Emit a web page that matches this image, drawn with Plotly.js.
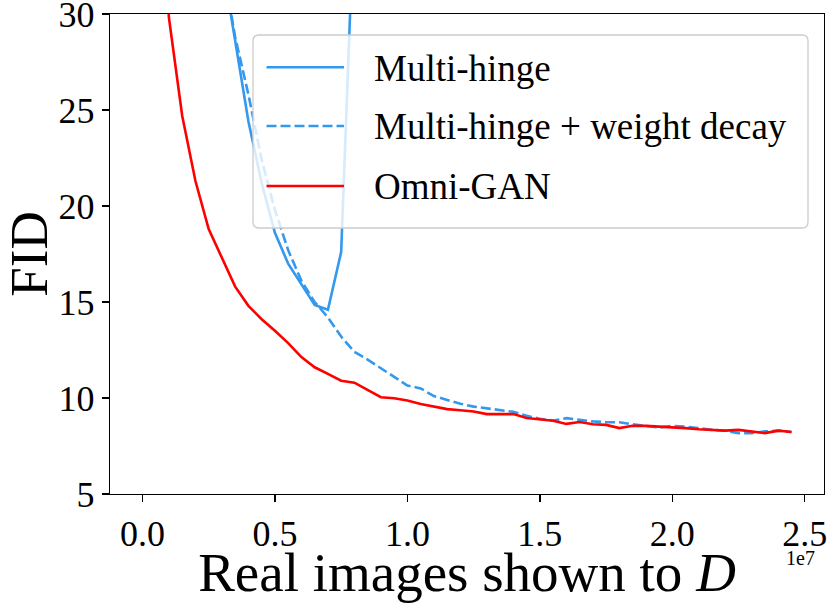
<!DOCTYPE html>
<html>
<head>
<meta charset="utf-8">
<script src="https://cdn.plot.ly/plotly-3.0.1.min.js"></script>
<style>
  html, body { margin: 0; padding: 0; background: #fff; }
  #chart { width: 830px; height: 603px; }
</style>
</head>
<body>
<div id="chart"></div>
<script>
// Real images shown to D (raw units)
const xShown = [0, 0.05e7, 0.10e7, 0.15e7, 0.20e7, 0.25e7, 0.30e7, 0.35e7, 0.40e7, 0.45e7,
                0.50e7, 0.55e7, 0.60e7, 0.65e7, 0.70e7, 0.75e7, 0.80e7, 0.85e7, 0.90e7, 0.95e7,
                1.00e7, 1.05e7, 1.10e7, 1.15e7, 1.20e7, 1.25e7, 1.30e7, 1.35e7, 1.40e7, 1.45e7,
                1.50e7, 1.55e7, 1.60e7, 1.65e7, 1.70e7, 1.75e7, 1.80e7, 1.85e7, 1.90e7, 1.95e7,
                2.00e7, 2.05e7, 2.10e7, 2.15e7, 2.20e7, 2.25e7, 2.30e7, 2.35e7, 2.40e7, 2.45e7];

const fidMultiHinge = [null, null, null, null, null, null, 32.8, 28.6, 24.4, 21.2,
                       18.6, 17.0, 15.9, 14.85, 14.6, 17.6, 36.0, null, null, null,
                       null, null, null, null, null, null, null, null, null, null,
                       null, null, null, null, null, null, null, null, null, null,
                       null, null, null, null, null, null, null, null, null, null];

const fidMultiHingeWD = [null, null, null, null, null, null, 32.8, 28.8, 25.8, 22.4,
                         19.8, 17.7, 16.1, 15.0, 14.2, 13.2, 12.4, 12.0, 11.55, 11.1,
                         10.65, 10.5, 10.1, 9.9, 9.7, 9.55, 9.45, 9.35, 9.28, 9.07,
                         8.92, 8.82, 8.95, 8.86, 8.78, 8.74, 8.74, 8.63, 8.56, 8.46,
                         8.55, 8.51, 8.43, 8.34, 8.29, 8.17, 8.17, 8.26, 8.30, 8.23];

const fidOmniGAN = [null, 40.0, 29.8, 24.7, 21.3, 18.8, 17.3, 15.8, 14.8, 14.1,
                    13.5, 12.86, 12.13, 11.6, 11.26, 10.9, 10.8, 10.42, 10.04, 9.99,
                    9.87, 9.69, 9.55, 9.42, 9.36, 9.30, 9.16, 9.16, 9.16, 8.96,
                    8.90, 8.81, 8.65, 8.75, 8.63, 8.60, 8.43, 8.55, 8.55, 8.51,
                    8.49, 8.43, 8.37, 8.34, 8.30, 8.34, 8.25, 8.17, 8.30, 8.23];

const seriesNames = ['Multi-hinge', 'Multi-hinge + weight decay', 'Omni-GAN'];
const xTickVals = [0, 0.5e7, 1.0e7, 1.5e7, 2.0e7, 2.5e7];
const xTickText = ['0.0', '0.5', '1.0', '1.5', '2.0', '2.5'];
const yTickVals = [5, 10, 15, 20, 25, 30];
const yTickText = ['5', '10', '15', '20', '25', '30'];

const fontFam = 'Liberation Serif';
const blue = '#3399ee';
const red = '#ff0000';
const seriesColors = [blue, blue, red];
const seriesDash = ['solid', '10px,4px', 'solid'];
const seriesData = [fidMultiHinge, fidMultiHingeWD, fidOmniGAN];

const chartTraces = seriesData.map((yv, i) => ({
  x: xShown, y: yv, name: seriesNames[i], mode: 'lines', showlegend: false,
  line: { color: seriesColors[i], width: 2.6, dash: seriesDash[i] }
}));

function axisStyle(extra) {
  const base = {
    showline: true, mirror: true, linecolor: '#000', linewidth: 1.3,
    ticks: 'outside', ticklen: 7, tickwidth: 1.3, tickcolor: '#000',
    showgrid: false, zeroline: false, ticklabeloverflow: 'allow',
    tickfont: { family: fontFam, size: 36, color: '#000' }
  };
  return Object.assign(base, extra);
}

// legend drawn as a framed box (paper coordinates)
const LG = { x0: 0.2003, x1: 0.9776, y0: 0.5542, y1: 0.9563, rx: 0.0084, ry: 0.0125 };
const boxPath = `M${LG.x0 + LG.rx},${LG.y1} L${LG.x1 - LG.rx},${LG.y1} Q${LG.x1},${LG.y1} ${LG.x1},${LG.y1 - LG.ry} ` +
  `L${LG.x1},${LG.y0 + LG.ry} Q${LG.x1},${LG.y0} ${LG.x1 - LG.rx},${LG.y0} L${LG.x0 + LG.rx},${LG.y0} ` +
  `Q${LG.x0},${LG.y0} ${LG.x0},${LG.y0 + LG.ry} L${LG.x0},${LG.y1 - LG.ry} Q${LG.x0},${LG.y1} ${LG.x0 + LG.rx},${LG.y1} Z`;
const rowY = [0.8890, 0.7667, 0.6417];
const chartShapes = [{ type: 'path', xref: 'paper', yref: 'paper', path: boxPath, layer: 'above',
                       fillcolor: 'rgba(255,255,255,0.8)', line: { color: '#cccccc', width: 1.3 } }];
const chartAnnotations = [];
rowY.forEach((ry, i) => {
  chartShapes.push({ type: 'line', xref: 'paper', yref: 'paper', layer: 'above',
                     x0: 0.2192, x1: 0.3277, y0: ry, y1: ry,
                     line: { color: seriesColors[i], width: 2.6, dash: seriesDash[i] } });
  chartAnnotations.push({ text: seriesNames[i], xref: 'paper', yref: 'paper', x: 0.3670, y: ry - 0.002,
                          xanchor: 'left', yanchor: 'middle', showarrow: false,
                          font: { family: fontFam, size: 37, color: '#000' } });
});
chartAnnotations.push({ text: '1e7', xref: 'paper', yref: 'paper', x: 0.99, y: -0.106,
                        xanchor: 'right', yanchor: 'top', showarrow: false,
                        font: { family: fontFam, size: 20, color: '#000' } });

const chartLayout = {
  width: 830, height: 603,
  margin: { l: 110, r: 6, t: 14, b: 109 },
  paper_bgcolor: '#fff', plot_bgcolor: '#fff',
  showlegend: false,
  xaxis: axisStyle({
    range: [-0.1225e7, 2.5725e7],
    tickmode: 'array', tickvals: xTickVals, ticktext: xTickText,
    title: { text: 'Real images shown to <i>D</i>', font: { family: fontFam, size: 55, color: '#000' }, standoff: 6 }
  }),
  yaxis: axisStyle({
    range: [4.999, 30.001],
    tickmode: 'array', tickvals: yTickVals, ticktext: yTickText,
    title: { text: 'FID', font: { family: fontFam, size: 53, color: '#000' }, standoff: 6 }
  }),
  shapes: chartShapes,
  annotations: chartAnnotations
};

Plotly.newPlot('chart', chartTraces, chartLayout, { displayModeBar: false, staticPlot: true }).then(() => {
  document.querySelectorAll('#chart text').forEach(t => { t.style.fontFamily = '"Liberation Serif"'; });
});
</script>
</body>
</html>
